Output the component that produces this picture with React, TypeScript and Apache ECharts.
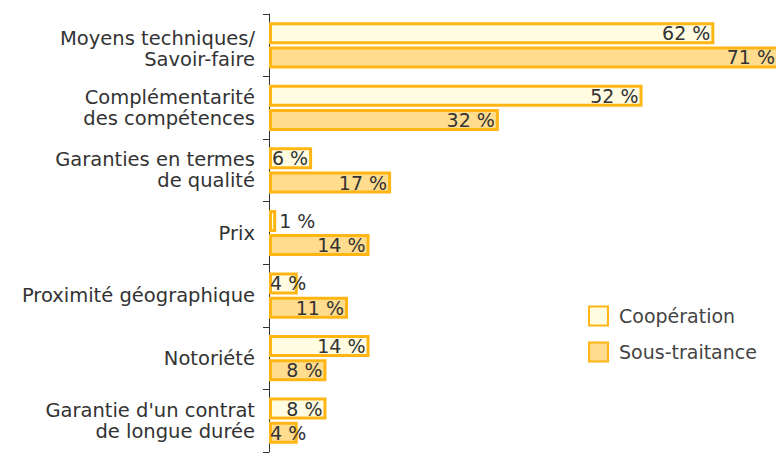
import React, { useEffect, useRef } from "react";
import * as echarts from "echarts";

const categories = [
  "Moyens techniques/\nSavoir-faire",
  "Complémentarité\ndes compétences",
  "Garanties en termes\nde qualité",
  "Prix",
  "Proximité géographique",
  "Notoriété",
  "Garantie d'un contrat\nde longue durée",
];
const seriesNames = ["Coopération", "Sous-traitance"];
const cooperation = [62, 52, 6, 1, 4, 14, 8];
const sousTraitance = [71, 32, 17, 14, 11, 8, 4];

const BORDER = "#FFB615";
const FILLS = ["#FFFCE2", "#FFDC8E"];
const FONT = "DejaVu Sans";

function labelFor(v: number) {
  if (v < 2) return { position: "right", distance: 3 };
  if (v < 6) return { position: "insideLeft", distance: 1 };
  return { position: "insideRight", distance: 4 };
}

function buildData(values: number[]) {
  return values.map((v) => ({ value: v, label: labelFor(v) }));
}

export default function App() {
  const ref = useRef<HTMLDivElement>(null);
  useEffect(() => {
    document.body.style.margin = "0";
    if (!ref.current) return;
    const chart = echarts.init(ref.current, undefined, { renderer: "svg" });
    const mk = (name: string, values: number[], idx: number) => ({
      name,
      type: "bar",
      data: buildData(values),
      barWidth: 22,
      barGap: "10%",
      clip: false,
      itemStyle: { color: FILLS[idx], borderColor: BORDER, borderWidth: 3 },
      label: {
        show: true,
        formatter: (p: any) => p.value + " %",
        color: "#333",
        fontFamily: FONT,
        fontSize: 19,
      },
    });
    chart.setOption({
      animation: false,
      grid: {
        left: 269,
        width: 510,
        top: 14,
        bottom: 9,
        containLabel: false,
        outerBoundsMode: "none",
      },
      legend: {
        orient: "vertical",
        left: 588,
        top: 305.5,
        padding: 0,
        icon: "rect",
        itemWidth: 19,
        itemHeight: 19,
        itemGap: 15,
        textStyle: {
          fontFamily: FONT,
          fontSize: 19,
          color: "#444",
          padding: [0, 0, 0, 6],
        },
        data: seriesNames,
      },
      xAxis: {
        type: "value",
        min: 0,
        max: 71,
        show: false,
      },
      yAxis: {
        type: "category",
        inverse: true,
        data: categories,
        axisLine: { show: true, lineStyle: { color: "#333", width: 1 } },
        axisTick: { show: true, length: 6, lineStyle: { color: "#333", width: 1 } },
        axisLabel: {
          margin: 14,
          fontFamily: FONT,
          fontSize: 19.5,
          lineHeight: 21,
          color: "#333",
          align: "right",
          formatter: (v: string, i: number) => (i === 0 ? "{sp| }\n" + v : v),
          rich: { sp: { fontSize: 4, lineHeight: 8, height: 8 } },
        },
      },
      series: [
        mk(seriesNames[0], cooperation, 0),
        mk(seriesNames[1], sousTraitance, 1),
      ],
    });
    return () => chart.dispose();
  }, []);
  return <div ref={ref} style={{ width: 776, height: 461 }} />;
}
